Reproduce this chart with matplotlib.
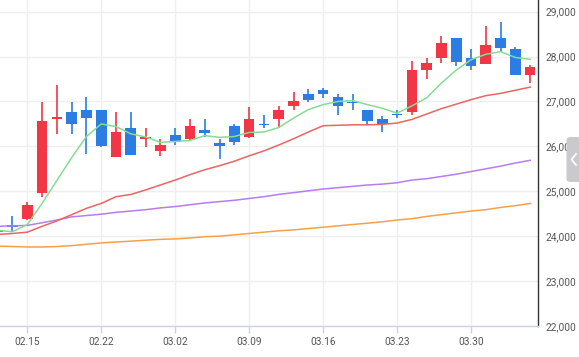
import numpy as np
import matplotlib.pyplot as plt
from matplotlib.patches import FancyBboxPatch
from matplotlib.lines import Line2D

plt.rcParams['font.family'] = ['Roboto', 'DejaVu Sans']

# trading day index, day 0 = 02.15
days = np.arange(-2, 35)
opens = [24120, 24260, 24390, 24960, 26600, 26770, 26820, 26820, 25760, 26420,
         26160, 25890, 26260, 26160, 26370, 26070, 26460, 26200, 26500, 26600,
         26890, 27170, 27260, 27100, 26980, 26820, 26620, 26720, 26760, 27690,
         27960, 28420, 27970, 27840, 28420, 28170, 27600]
highs = [24140, 24460, 24770, 26980, 27370, 26980, 27110, 26820, 26770, 26770,
         26420, 26170, 26420, 26620, 26620, 26170, 26500, 26870, 26700, 26900,
         27220, 27270, 27300, 27170, 27170, 26820, 26670, 26800, 27900, 27970,
         28460, 28420, 28170, 28670, 28770, 28220, 27820]
lows = [24080, 24110, 24370, 24870, 26270, 26270, 25820, 25980, 25760, 25800,
        25980, 25780, 26020, 26120, 26220, 25710, 26020, 26180, 26420, 26420,
        26820, 26980, 27070, 26710, 26820, 26470, 26320, 26630, 26710, 27510,
        27860, 27780, 27710, 27840, 28100, 27580, 27420]
closes = [24090, 24210, 24700, 26570, 26660, 26490, 26640, 26000, 26310, 25800,
          26220, 26020, 26090, 26460, 26300, 26000, 26090, 26620, 26480, 26820,
          27020, 27040, 27160, 26890, 26960, 26560, 26500, 26700, 27700, 27860,
          28300, 27880, 27800, 28260, 28190, 27600, 27770]

ma5 = [24130, 24100, 24260, 24730, 25240, 25750, 26220, 26500, 26440, 26280,
       26210, 26090, 26110, 26130, 26240, 26200, 26220, 26310, 26320, 26420,
       26630, 26820, 26930, 27000, 27020, 26930, 26850, 26740, 26900, 27080,
       27410, 27700, 27930, 28050, 28110, 27980, 27940]
ma20 = [24040, 24060, 24090, 24220, 24340, 24480, 24620, 24730, 24880, 24930,
        25030, 25140, 25250, 25370, 25480, 25570, 25670, 25790, 25900, 26030,
        26170, 26320, 26460, 26470, 26480, 26480, 26490, 26520, 26600, 26720,
        26840, 26940, 27040, 27130, 27180, 27250, 27320]
ma60 = [24220, 24230, 24240, 24300, 24360, 24430, 24460, 24490, 24530, 24560,
        24590, 24630, 24660, 24700, 24740, 24770, 24800, 24840, 24880, 24930,
        24970, 25010, 25050, 25080, 25110, 25140, 25160, 25190, 25250, 25280,
        25330, 25380, 25440, 25500, 25560, 25630, 25690]
ma120 = [23780, 23770, 23760, 23760, 23770, 23790, 23820, 23850, 23870, 23890,
         23910, 23930, 23940, 23960, 23990, 24000, 24030, 24060, 24090, 24120,
         24140, 24170, 24200, 24230, 24260, 24290, 24320, 24360, 24390, 24440,
         24480, 24520, 24560, 24590, 24640, 24680, 24730]

tick_days = [0, 5, 10, 15, 20, 25, 30]
tick_labels = ['02.15', '02.22', '03.02', '03.09', '03.16', '03.23', '03.30']
price_ticks = [22000, 23000, 24000, 25000, 26000, 27000, 28000, 29000]

up_color = '#f23645'
down_color = '#2b7de2'

fig = plt.figure(figsize=(5.79, 3.57), dpi=100)
ax = fig.add_axes([0, 31 / 357, 538.3 / 579, 326 / 357])

o = np.array(opens)
c = np.array(closes)
colors = [up_color if cc >= oo else down_color for oo, cc in zip(o, c)]
ax.vlines(days, lows, highs, colors=colors, linewidth=1.2, zorder=2)
bottoms = np.minimum(o, c)
heights = np.maximum(np.abs(c - o), 25)
ax.bar(days, heights, bottom=bottoms, width=0.72, color=colors, zorder=3)

ax.plot(days, ma120, color='#f5a04b', lw=1.1, zorder=4)
ax.plot(days, ma60, color='#b77cf0', lw=1.1, zorder=4)
ax.plot(days, ma20, color='#ec6464', lw=1.1, zorder=4)
ax.plot(days, ma5, color='#86dc93', lw=1.1, zorder=4)

ax.set_xlim(-1.845, 34.55)
ax.set_ylim(22000, 29260)
ax.set_xticks(tick_days)
ax.set_xticklabels(tick_labels)
ax.set_yticks(price_ticks)
ax.set_yticklabels([f'{p:,}' for p in price_ticks])
ax.yaxis.tick_right()
ax.grid(True, color='#efefef', lw=1.0, zorder=0)
ax.set_axisbelow(True)

for s in ['top', 'left']:
    ax.spines[s].set_visible(False)
ax.spines['right'].set_color('#333333')
ax.spines['right'].set_linewidth(1.0)
ax.spines['bottom'].set_color('#c9d3e6')
ax.spines['bottom'].set_linewidth(1.0)
ax.tick_params(axis='x', length=5, width=1, color='#c9d3e6', labelcolor='#555555',
               labelsize=7.3, pad=3)
ax.tick_params(axis='y', length=0, labelcolor='#555555', labelsize=7.3, pad=5)

# side tab with a chevron
tab = FancyBboxPatch((566.5 / 579, (357 - 182) / 357), 20 / 579, 45 / 357,
                     boxstyle='round,pad=0,rounding_size=0.008',
                     transform=fig.transFigure, facecolor='#cacacc',
                     edgecolor='none', zorder=10)
fig.add_artist(tab)
chevron = Line2D([576 / 579, 571.5 / 579, 576 / 579],
                 [(357 - 154) / 357, (357 - 159.5) / 357, (357 - 165) / 357],
                 transform=fig.transFigure, color='white', lw=1.3, zorder=11)
fig.add_artist(chevron)

fig.savefig('out.png', dpi=100)
